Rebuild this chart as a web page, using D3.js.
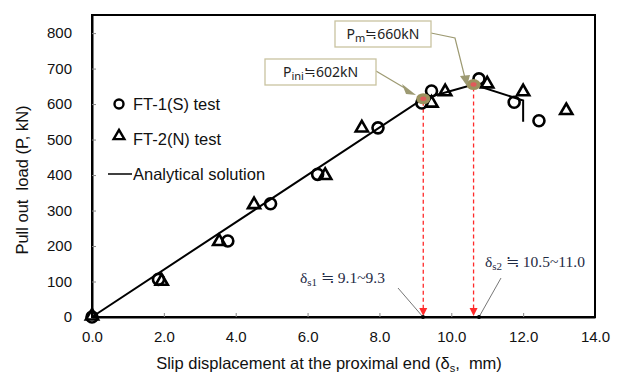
<!DOCTYPE html>
<html>
<head>
<meta charset="utf-8">
<script src="https://cdn.jsdelivr.net/npm/d3@7"></script>
<style>
body{margin:0;background:#fff;}
svg text{font-family:"Liberation Sans", Arial, sans-serif;}
</style>
</head>
<body>
<svg id="chart" width="624" height="374"></svg>
<script>
//test data (slip mm, load kN)
var ft1X = [0, 1.85, 3.78, 4.97, 6.28, 7.96, 9.18, 9.45, 10.77, 11.75, 12.44];
var ft1Y = [0, 106, 214, 319, 402, 533, 603, 637, 671, 605, 553];
var ft2X = [0, 1.94, 3.54, 4.51, 6.49, 7.51, 9.45, 9.83, 11.0, 12.0, 13.2];
var ft2Y = [0, 98, 210, 314, 396, 530, 600, 632, 654, 632, 579];
//analytical solution polyline
var anaX = [0, 9.22, 10.62, 12.0, 12.0];
var anaY = [0, 615, 655, 610, 550];
//key points (initial / max)
var keyX = [9.22, 10.62];
var keyY = [615, 655];
var xTicks = [0, 2, 4, 6, 8, 10, 12, 14];
var yTicks = [0, 100, 200, 300, 400, 500, 600, 700, 800];

var svg = d3.select('#chart');
var plotL = 92, plotT = 15, plotR = 595, plotB = 317; //"top" is taken by window

var x = d3.scaleLinear().domain([0, 14]).range([plotL, plotR]);
var y = d3.scaleLinear().domain([0, 851]).range([plotB, plotT]);

//frame
svg.append('rect')
	.attr('x', plotL).attr('y', plotT)
	.attr('width', plotR - plotL).attr('height', plotB - plotT)
	.attr('fill', 'none').attr('stroke', '#000').attr('stroke-width', 2);

//axes, ticks point inwards
var xAxis = svg.append('g').attr('transform', 'translate(0,' + plotB + ')')
	.call(d3.axisBottom(x).tickValues(xTicks).tickSizeInner(-4).tickSizeOuter(0).tickPadding(14)
		.tickFormat(d3.format('.1f')));
var yAxis = svg.append('g').attr('transform', 'translate(' + plotL + ',0)')
	.call(d3.axisLeft(y).tickValues(yTicks).tickSizeInner(-4).tickSizeOuter(0).tickPadding(20));
[xAxis, yAxis].forEach(function(a){
	a.select('.domain').attr('stroke', '#000').attr('stroke-width', 2);
	a.selectAll('.tick line').attr('stroke', '#888');
	a.selectAll('.tick text').attr('font-size', 15).attr('fill', '#111')
		.style('font-family', '"Liberation Sans", Arial, sans-serif');
});
yAxis.selectAll('.tick line').filter(function(d){ return d === 0; }).remove();
xAxis.selectAll('.tick line').filter(function(d){ return d === 0 || d === 14; }).remove();

//axis titles (double spaces kept as in the original)
svg.append('text')
	.attr('x', 329).attr('y', 369).attr('text-anchor', 'middle')
	.attr('font-size', 16.5).attr('fill', '#111').style('white-space', 'pre')
	.html('Slip displacement at the proximal end (δ<tspan font-size="11" dy="3">s</tspan><tspan dy="-3">,  mm)</tspan>');
svg.append('text')
	.attr('transform', 'translate(28,180) rotate(-90)').attr('text-anchor', 'middle')
	.attr('font-size', 16.5).attr('fill', '#111').style('white-space', 'pre')
	.text('Pull out  load (P, kN)');

//red dashed drop lines
var red = '#ff2a2a';
svg.selectAll('.drop').data(keyX).enter().append('line')
	.attr('x1', function(d){ return x(d); }).attr('x2', function(d){ return x(d); })
	.attr('y1', function(d, i){ return y(keyY[i]) + 3; }).attr('y2', plotB - 8)
	.attr('stroke', red).attr('stroke-width', 1.3).attr('stroke-dasharray', '4,3');
svg.selectAll('.dropHead').data(keyX).enter().append('path')
	.attr('d', function(d){ var px = x(d); return 'M' + (px - 4) + ',' + (plotB - 9) + 'L' + (px + 4) + ',' + (plotB - 9) + 'L' + px + ',' + (plotB - 1) + 'Z'; })
	.attr('fill', red);

//analytical solution
var pts = anaX.map(function(d, i){ return [d, anaY[i]]; });
svg.append('path')
	.attr('d', d3.line().x(function(d){ return x(d[0]); }).y(function(d){ return y(d[1]); })(pts))
	.attr('fill', 'none').attr('stroke', '#000').attr('stroke-width', 2);

//markers
var tri = d3.symbol().type(d3.symbolTriangle).size(64);
ft2X.forEach(function(d, i){
	svg.append('path').attr('d', tri())
		.attr('transform', 'translate(' + x(d) + ',' + (y(ft2Y[i]) - 1) + ')')
		.attr('fill', 'none').attr('stroke', '#000').attr('stroke-width', 2.6);
});
ft1X.forEach(function(d, i){
	svg.append('circle').attr('cx', x(d)).attr('cy', y(ft1Y[i])).attr('r', 5.5)
		.attr('fill', 'none').attr('stroke', '#000').attr('stroke-width', 2.6);
});

//key point dots
keyX.forEach(function(d, i){
	svg.append('ellipse').attr('cx', x(d)).attr('cy', y(keyY[i])).attr('rx', 7).attr('ry', 5.5)
		.attr('fill', '#9b925f');
	svg.append('ellipse').attr('cx', x(d)).attr('cy', y(keyY[i])).attr('rx', 3).attr('ry', 2.2)
		.attr('fill', '#e05a5a');
});

//callout boxes
var olive = '#9d9a72';
function callout(bx, by, bw, bh, label, sub, val, path, tip){
	svg.append('path').attr('d', path).attr('fill', 'none').attr('stroke', olive).attr('stroke-width', 1.2);
	svg.append('path').attr('d', tip).attr('fill', olive);
	svg.append('rect').attr('x', bx).attr('y', by).attr('width', bw).attr('height', bh)
		.attr('fill', '#fff').attr('stroke', '#c9c3a0').attr('stroke-width', 1.3);
	svg.append('text').attr('x', bx + bw / 2).attr('y', by + bh / 2 + 5).attr('text-anchor', 'middle')
		.attr('font-size', 14).attr('fill', '#222').style('font-family', '"Noto Sans", sans-serif')
		.html(label + '<tspan font-size="11" dy="3">' + sub + '</tspan><tspan dy="-3">' + val + '</tspan>');
}
callout(265, 59, 111, 26, 'P', 'ini', '≒602kN',
	'M376,71L408,90', 'M402,84L416,95L406,94Z');
callout(335, 21, 96, 26, 'P', 'm', '≒660kN',
	'M431,33L455,38L465,78', 'M460,76L467,86L470,75Z');

//slip range notes
svg.append('path').attr('d', 'M398,288L423,317').attr('stroke', '#777').attr('stroke-width', 1);
svg.append('path').attr('d', 'M501,278L479,317').attr('stroke', '#777').attr('stroke-width', 1);
svg.append('circle').attr('cx', 423).attr('cy', 317).attr('r', 2).attr('fill', '#000');
svg.append('circle').attr('cx', 479).attr('cy', 317).attr('r', 2).attr('fill', '#000');
var serif = '"Liberation Serif", "Times New Roman", serif';
svg.append('text').attr('x', 300).attr('y', 283).attr('font-size', 15.5).attr('fill', '#1e2a44')
	.style('font-family', serif)
	.html('δ<tspan font-size="11" dy="3">s1</tspan><tspan dy="-3"> ≒ 9.1~9.3</tspan>');
svg.append('text').attr('x', 485).attr('y', 267).attr('font-size', 15.5).attr('fill', '#1e2a44')
	.style('font-family', serif)
	.html('δ<tspan font-size="11" dy="3">s2</tspan><tspan dy="-3"> ≒ 10.5~11.0</tspan>');

//legend
var lg = svg.append('g').style('font-family', '"Noto Sans", sans-serif');
lg.append('circle').attr('cx', 119).attr('cy', 104).attr('r', 4.5)
	.attr('fill', 'none').attr('stroke', '#000').attr('stroke-width', 2.4);
lg.append('path').attr('d', d3.symbol().type(d3.symbolTriangle).size(50)())
	.attr('transform', 'translate(119,136)')
	.attr('fill', 'none').attr('stroke', '#000').attr('stroke-width', 2.4);
lg.append('line').attr('x1', 108).attr('x2', 132).attr('y1', 174).attr('y2', 174)
	.attr('stroke', '#000').attr('stroke-width', 1.5);
var labels = ['FT-1(S) test', 'FT-2(N) test', 'Analytical solution'];
var ly = [104, 139, 174];
labels.forEach(function(t, i){
	lg.append('text').attr('x', 133).attr('y', ly[i] + 6).attr('font-size', 16.5).attr('fill', '#111').text(t);
});
</script>
</body>
</html>
